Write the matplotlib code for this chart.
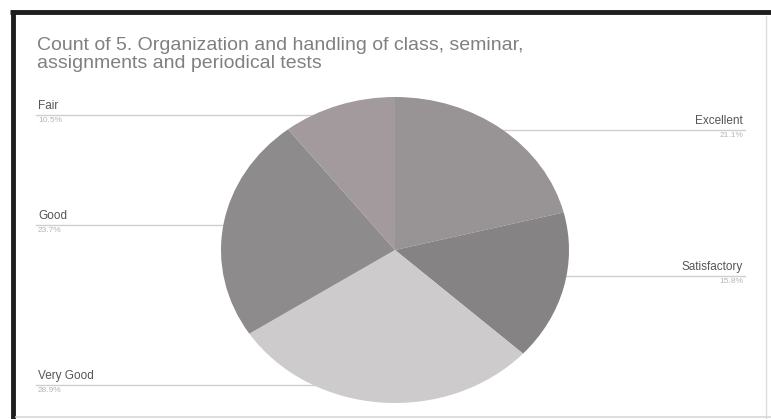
import matplotlib
matplotlib.use('Agg')
import matplotlib.pyplot as plt
import numpy as np

plt.rcParams['font.family'] = ['Liberation Sans', 'DejaVu Sans']

title = 'Count of 5. Organization and handling of class, seminar,\nassignments and periodical tests'
labels = ['Excellent', 'Satisfactory', 'Very Good', 'Good', 'Fair']
counts = [8, 6, 11, 9, 4]
colors = ['#989495', '#858384', '#cdcbcc', '#8d8b8c', '#a29a9c']

# label placement (pixel coords of the picture, y down)
label_side = ['right', 'right', 'left', 'left', 'left']
label_y = [130, 276, 385, 225, 115]

W, H = 771, 419
fig = plt.figure(figsize=(W / 100, H / 100), dpi=100)
fig.patch.set_facecolor('white')

# overlay axes in pixel units
ov = fig.add_axes([0, 0, 1, 1])
ov.set_xlim(0, W)
ov.set_ylim(H, 0)
ov.axis('off')

# frame
ov.plot([10, W], [12, 12], color='#1e1e1e', lw=3.5, solid_capstyle='butt')
ov.plot([13, 13], [10, H], color='#1e1e1e', lw=3.5, solid_capstyle='butt')
ov.plot([766, 766], [16, H], color='#dedede', lw=1)
ov.plot([16, W], [417, 417], color='#d8d8d8', lw=1.2)

ov.text(37, 37, title, fontsize=14, color='#808080', va='top', ha='left',
        linespacing=1.08)

# pie
cx, cy, rx, ry = 395, 250, 174, 153
pa = fig.add_axes([(cx - rx) / W, (H - cy - ry) / H, 2 * rx / W, 2 * ry / H])
pa.axis('off')
pa.patch.set_alpha(0)
wedges, _ = pa.pie(counts, colors=colors, startangle=90, counterclock=False,
                   radius=1, wedgeprops=dict(linewidth=0))
pa.set_aspect('auto')
pa.set_xlim(-1, 1)
pa.set_ylim(-1, 1)

total = sum(counts)
for w, lab, side, ly, c in zip(wedges, labels, label_side, label_y, counts):
    # where the leader meets the pie: ellipse edge at that height
    t = (cy - ly) / ry
    t = max(-1, min(1, t))
    half = rx * np.sqrt(1 - t * t)
    pct = '%.1f%%' % (100.0 * c / total)
    if side == 'left':
        x_end = cx - half + 15
        ov.plot([36, x_end], [ly, ly], color='#cfcfcf', lw=1, zorder=0)
        ov.text(38, ly - 3, lab, fontsize=8.5, color='#555555', ha='left', va='bottom')
        ov.text(38, ly + 2, pct, fontsize=6, color='#b5b5b5', ha='left', va='top')
    else:
        x_end = cx + half - 15
        ov.plot([x_end, 745], [ly, ly], color='#cfcfcf', lw=1, zorder=0)
        ov.text(743, ly - 3, lab, fontsize=8.5, color='#555555', ha='right', va='bottom')
        ov.text(743, ly + 2, pct, fontsize=6, color='#b5b5b5', ha='right', va='top')

fig.savefig('out.png', dpi=100, facecolor='white')
